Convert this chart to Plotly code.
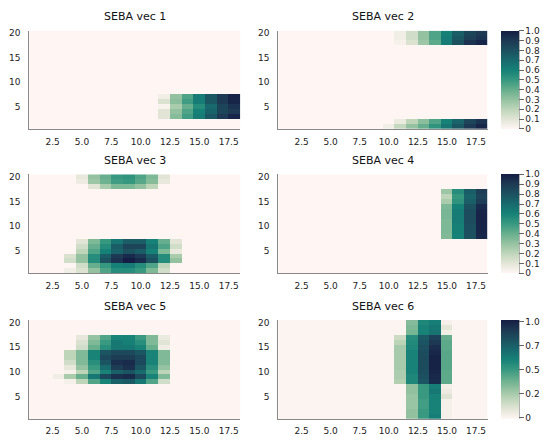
import numpy as np
import plotly.graph_objects as go

W, H = 542, 436
NX, NY = 18, 20
X_VALS = list(range(1, NX + 1))
Y_VALS = list(range(1, NY + 1))

X_TICKS = [2.5, 5.0, 7.5, 10.0, 12.5, 15.0, 17.5]
X_TICKTEXT = ["2.5", "5.0", "7.5", "10.0", "12.5", "15.0", "17.5"]
Y_TICKS = [5, 10, 15, 20]

TITLES = ["SEBA vec 1", "SEBA vec 2", "SEBA vec 3", "SEBA vec 4", "SEBA vec 5", "SEBA vec 6"]

# non-zero cells per row: row -> (first column, values)
VEC1 = {
    7: (12, [0.05, 0.30, 0.45, 0.62, 0.78, 0.90, 0.98]),
    6: (12, [0.12, 0.32, 0.48, 0.62, 0.78, 0.90, 0.97]),
    5: (12, [0.02, 0.25, 0.40, 0.55, 0.70, 0.85, 0.92]),
    4: (12, [0.10, 0.30, 0.45, 0.60, 0.72, 0.85, 0.90]),
    3: (12, [0.10, 0.33, 0.48, 0.62, 0.77, 0.90, 0.97]),
}
VEC2 = {
    20: (11, [0.05, 0.15, 0.30, 0.45, 0.60, 0.75, 0.85, 0.90]),
    19: (11, [0.05, 0.15, 0.30, 0.45, 0.62, 0.78, 0.87, 0.92]),
    18: (11, [0.03, 0.12, 0.28, 0.42, 0.62, 0.80, 0.92, 0.97]),
    2: (11, [0.07, 0.20, 0.32, 0.45, 0.60, 0.72, 0.85, 0.92]),
    1: (10, [0.05, 0.18, 0.30, 0.40, 0.52, 0.65, 0.78, 0.90, 0.97]),
}
VEC3 = {
    20: (5, [0.08, 0.30, 0.40, 0.50, 0.52, 0.45, 0.35, 0.10]),
    19: (5, [0.06, 0.28, 0.38, 0.48, 0.50, 0.43, 0.33, 0.08]),
    18: (6, [0.10, 0.25, 0.35, 0.35, 0.30, 0.20]),
    7: (5, [0.10, 0.35, 0.50, 0.65, 0.75, 0.75, 0.60, 0.40, 0.10]),
    6: (5, [0.15, 0.40, 0.55, 0.75, 0.85, 0.85, 0.65, 0.45, 0.15]),
    5: (5, [0.20, 0.45, 0.60, 0.72, 0.80, 0.75, 0.60, 0.35, 0.08]),
    4: (4, [0.12, 0.30, 0.55, 0.75, 0.90, 0.95, 0.90, 0.75, 0.55, 0.25]),
    3: (4, [0.15, 0.30, 0.55, 0.80, 0.92, 1.00, 0.95, 0.80, 0.55, 0.30]),
    2: (5, [0.15, 0.40, 0.50, 0.60, 0.62, 0.55, 0.45, 0.20]),
    1: (4, [0.05, 0.12, 0.30, 0.45, 0.55, 0.55, 0.50, 0.35, 0.15]),
}
VEC4 = {
    17: (15, [0.28, 0.55, 0.75, 0.88]),
    16: (15, [0.20, 0.50, 0.72, 0.86]),
    15: (15, [0.25, 0.52, 0.74, 0.88]),
    14: (15, [0.35, 0.60, 0.80, 0.95]),
    13: (15, [0.36, 0.62, 0.82, 0.97]),
    12: (15, [0.36, 0.62, 0.82, 0.98]),
    11: (15, [0.35, 0.62, 0.82, 0.98]),
    10: (15, [0.35, 0.61, 0.81, 0.97]),
    9: (15, [0.35, 0.61, 0.81, 0.97]),
    8: (15, [0.34, 0.60, 0.80, 0.96]),
}
VEC5 = {
    17: (5, [0.08, 0.30, 0.45, 0.60, 0.60, 0.50, 0.35, 0.07]),
    16: (5, [0.12, 0.35, 0.50, 0.65, 0.62, 0.55, 0.35, 0.10]),
    15: (5, [0.15, 0.40, 0.55, 0.65, 0.65, 0.60, 0.40, 0.05]),
    14: (4, [0.20, 0.35, 0.60, 0.80, 0.85, 0.85, 0.80, 0.60, 0.35]),
    13: (4, [0.20, 0.35, 0.60, 0.85, 0.90, 0.90, 0.85, 0.60, 0.35]),
    12: (4, [0.15, 0.35, 0.55, 0.80, 0.95, 0.97, 0.85, 0.60, 0.35]),
    11: (4, [0.08, 0.30, 0.50, 0.70, 0.90, 0.95, 0.80, 0.55, 0.30]),
    10: (4, [0.03, 0.20, 0.45, 0.60, 0.75, 0.80, 0.70, 0.50, 0.20]),
    9: (3, [0.05, 0.25, 0.40, 0.65, 0.85, 0.95, 0.97, 0.85, 0.60, 0.35]),
    8: (4, [0.03, 0.20, 0.45, 0.60, 0.75, 0.78, 0.65, 0.45, 0.15]),
}
VEC6 = {
    20: (12, [0.33, 0.58, 0.62, 0.02]),
    19: (12, [0.35, 0.60, 0.65, 0.08]),
    18: (12, [0.36, 0.60, 0.66, 0.03]),
    17: (11, [0.15, 0.55, 0.78, 0.88, 0.40]),
    16: (11, [0.20, 0.57, 0.80, 0.92, 0.42]),
    15: (11, [0.25, 0.58, 0.82, 0.96, 0.42]),
    14: (11, [0.25, 0.60, 0.83, 0.98, 0.43]),
    13: (11, [0.25, 0.60, 0.84, 1.00, 0.43]),
    12: (11, [0.25, 0.60, 0.84, 1.00, 0.43]),
    11: (11, [0.25, 0.60, 0.84, 1.00, 0.43]),
    10: (11, [0.24, 0.60, 0.83, 0.99, 0.42]),
    9: (11, [0.24, 0.58, 0.82, 0.98, 0.42]),
    8: (11, [0.22, 0.58, 0.80, 0.97, 0.42]),
    7: (12, [0.30, 0.50, 0.62, 0.03]),
    6: (12, [0.30, 0.50, 0.65, 0.05]),
    5: (12, [0.28, 0.50, 0.60, 0.10]),
    4: (12, [0.28, 0.48, 0.60, 0.02]),
    3: (12, [0.28, 0.48, 0.60, 0.02]),
    2: (12, [0.30, 0.50, 0.60, 0.02]),
    1: (12, [0.30, 0.50, 0.62, 0.02]),
}
VECS = [VEC1, VEC2, VEC3, VEC4, VEC5, VEC6]

CB_TICKS_A = [0, 0.1, 0.2, 0.3, 0.4, 0.5, 0.6, 0.7, 0.8, 0.9, 1.0]
CB_TEXT_A = ["0", "0.1", "0.2", "0.3", "0.4", "0.5", "0.6", "0.7", "0.8", "0.9", "1.0"]
CB_TICKS_B = [0, 0.25, 0.5, 0.75, 1.0]
CB_TEXT_B = ["0", "0.2", "0.5", "0.7", "1.0"]

TEMPO = [
    [0.0, "rgb(255,246,244)"],
    [0.1, "rgb(226,229,214)"],
    [0.2, "rgb(190,213,186)"],
    [0.3, "rgb(148,194,160)"],
    [0.4, "rgb(102,174,141)"],
    [0.5, "rgb(55,152,128)"],
    [0.6, "rgb(22,129,119)"],
    [0.7, "rgb(24,105,109)"],
    [0.8, "rgb(28,81,96)"],
    [0.9, "rgb(29,57,83)"],
    [1.0, "rgb(21,29,68)"],
]


def build(spec):
    z = np.zeros((NY, NX))
    for row, (c0, vals) in spec.items():
        z[row - 1, c0 - 1:c0 - 1 + len(vals)] = vals
    return z


FONT = "DejaVu Sans"
XDOM_PX = [(29.2, 240.4), (278.3, 487.7)]
YDOM_PX = [(29.0, 128.5), (174.3, 274.5), (321.7, 421.5)]
TITLE_Y_PX = [15.0, 160.0, 308.3]
CB_X_PX = 501.0
CB_W_PX = 18

fig = go.Figure()
layout = dict(
    width=W, height=H, margin=dict(l=0, r=0, t=0, b=0), autosize=False,
    paper_bgcolor="white", plot_bgcolor="white", showlegend=False,
    font=dict(family=FONT, size=9, color="#222"),
)
annotations = []
shapes = []

for i, spec in enumerate(VECS):
    col, row = i % 2, i // 2
    n = i + 1
    xa = "x" if n == 1 else f"x{n}"
    ya = "y" if n == 1 else f"y{n}"
    xl, xr = XDOM_PX[col]
    yt, yb = YDOM_PX[row]
    if row < 2:
        zmin, zmax = 0.0, 1.0
    elif col == 0:
        zmin, zmax = -0.005, 1.02
    else:
        zmin, zmax = -0.015, 1.02
    show = col == 1
    cb = None
    if show:
        tv, tt = (CB_TICKS_A, CB_TEXT_A) if row < 2 else (CB_TICKS_B, CB_TEXT_B)
        cb = dict(
            x=CB_X_PX / W, xanchor="left", y=1 - (yt + yb) / 2 / H, yanchor="middle",
            len=(yb - yt) / H, lenmode="fraction", thickness=CB_W_PX, thicknessmode="pixels",
            outlinewidth=0, ticks="outside", ticklen=5, tickcolor="#666", tickwidth=1,
            tickvals=tv, ticktext=tt, xpad=0, ypad=0,
            tickfont=dict(family=FONT, size=9, color="#222"),
        )
        shapes.append(dict(type="line", xref="paper", yref="paper",
                           x0=(CB_X_PX + CB_W_PX) / W, x1=(CB_X_PX + CB_W_PX) / W,
                           y0=1 - yb / H, y1=1 - yt / H,
                           line=dict(color="#666", width=1)))
    fig.add_trace(go.Heatmap(
        x=X_VALS, y=Y_VALS, z=build(spec), colorscale=TEMPO, zmin=zmin, zmax=zmax,
        showscale=show, colorbar=cb, xaxis=xa, yaxis=ya, hoverinfo="skip", xgap=0, ygap=0,
    ))
    axkey_x = "xaxis" if n == 1 else f"xaxis{n}"
    axkey_y = "yaxis" if n == 1 else f"yaxis{n}"
    layout[axkey_x] = dict(
        domain=[xl / W, xr / W], anchor=ya, range=[0.5, 18.5], showgrid=False, zeroline=False,
        showline=True, linecolor="#888", linewidth=1, tickvals=X_TICKS, ticktext=X_TICKTEXT,
        ticks="outside", ticklen=4, tickcolor="rgba(0,0,0,0)",
        tickfont=dict(family=FONT, size=9, color="#222"), fixedrange=True,
    )
    layout[axkey_y] = dict(
        domain=[1 - yb / H, 1 - yt / H], anchor=xa, range=[0.5, 20.5], showgrid=False, zeroline=False,
        showline=True, linecolor="#888", linewidth=1, tickvals=Y_TICKS,
        ticks="outside", ticklen=6, tickcolor="rgba(0,0,0,0)",
        tickfont=dict(family=FONT, size=9, color="#222"), fixedrange=True,
    )
    annotations.append(dict(
        text=TITLES[i], xref="paper", yref="paper", x=(xl + xr) / 2 / W, y=1 - TITLE_Y_PX[row] / H,
        xanchor="center", yanchor="middle", showarrow=False,
        font=dict(family=FONT, size=11, color="#111"),
    ))

layout["annotations"] = annotations
layout["shapes"] = shapes
fig.update_layout(**layout)
fig.write_html(
    "out.html",
    config={"displayModeBar": False, "responsive": False},
    post_script="document.body.style.margin='0';document.body.style.overflow='hidden';",
)
